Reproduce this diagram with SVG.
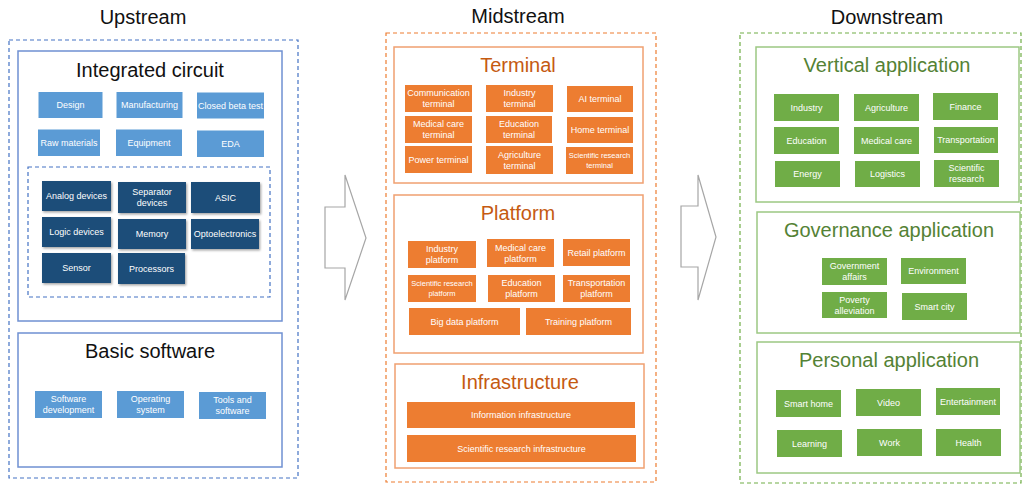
<svg xmlns="http://www.w3.org/2000/svg" width="1022" height="484" viewBox="0 0 1022 484">
  <style>
    text { font-family: "Liberation Sans", Arial, sans-serif; }
    .head { font-size: 20px; fill: #111; text-anchor: middle; }
    .ttl { font-size: 20px; text-anchor: middle; }
    .ttl-k { fill: #111; }
    .ttl-o { fill: #C55A11; }
    .ttl-g { fill: #548235; }
    .lbl { font-size: 9px; fill: #fff; text-anchor: middle; }
    .lbl-s { font-size: 7.5px; fill: #fff; text-anchor: middle; }
    .zone { fill: none; stroke-width: 1.2; stroke-dasharray: 4 3; }
    .zone-b { stroke: #4472C4; }
    .zone-o { stroke: #ED7D31; }
    .zone-g { stroke: #70AD47; }
    .grp { fill: #fff; stroke-width: 1.5; }
    .grp-b { stroke: #6F90D2; }
    .grp-o { stroke: #F0A070; }
    .grp-g { stroke: #9CC883; }
    .lb { fill: #5B9BD5; }
    .db { fill: #1F4E79; filter: url(#shadow); }
    .ob { fill: #ED7D31; }
    .gb { fill: #70AD47; }
    .arrow { fill: #fff; stroke: #A6A6A6; stroke-width: 1.2; }
  </style>
  <defs>
    <filter id="shadow" x="-10%" y="-10%" width="130%" height="140%">
      <feDropShadow dx="1.2" dy="1.5" stdDeviation="1" flood-color="#000" flood-opacity="0.35"/>
    </filter>
  </defs>

  <rect width="1022" height="484" fill="#fff"/>

  <!-- column headings -->
  <text class="head" x="143" y="24">Upstream</text>
  <text class="head" x="518" y="23">Midstream</text>
  <text class="head" x="887" y="24">Downstream</text>

  <!-- ===== Upstream ===== -->
  <g id="upstream">
    <rect class="zone zone-b" x="9" y="40" width="289" height="438"/>

    <g id="integrated-circuit">
      <rect class="grp grp-b" x="18" y="51" width="264" height="270"/>
      <text class="ttl ttl-k" x="150" y="77">Integrated circuit</text>
    </g>
    <g id="ic-design"><rect class="lb" x="38.5" y="92" width="64" height="26"/><text class="lbl" x="70.5" y="108">Design</text></g>
    <g id="ic-manufacturing"><rect class="lb" x="116.5" y="92" width="66" height="26"/><text class="lbl" x="149.5" y="108">Manufacturing</text></g>
    <g id="ic-closed-beta"><rect class="lb" x="197" y="92.5" width="67" height="26"/><text class="lbl" x="230.5" y="108.5">Closed beta test</text></g>
    <g id="ic-raw-materials"><rect class="lb" x="38" y="129.5" width="62" height="26.5"/><text class="lbl" x="69" y="145.5">Raw materials</text></g>
    <g id="ic-equipment"><rect class="lb" x="116" y="129.5" width="66" height="26.5"/><text class="lbl" x="149" y="145.5">Equipment</text></g>
    <g id="ic-eda"><rect class="lb" x="197" y="130.5" width="67" height="26.5"/><text class="lbl" x="230.5" y="147">EDA</text></g>

    <g id="ic-devices">
      <rect class="zone zone-b" x="28" y="167" width="242" height="130"/>
    </g>
    <g id="dev-analog"><rect class="db" x="42" y="181" width="69" height="30"/><text class="lbl" x="76.5" y="199">Analog devices</text></g>
    <g id="dev-separator"><rect class="db" x="118" y="182" width="68" height="31"/><text class="lbl" x="152" y="194.5">Separator</text><text class="lbl" x="152" y="205.5">devices</text></g>
    <g id="dev-asic"><rect class="db" x="191" y="182" width="69" height="31"/><text class="lbl" x="225.5" y="200.5">ASIC</text></g>
    <g id="dev-logic"><rect class="db" x="42" y="217" width="69" height="30"/><text class="lbl" x="76.5" y="235">Logic devices</text></g>
    <g id="dev-memory"><rect class="db" x="118" y="219" width="68" height="30"/><text class="lbl" x="152" y="237">Memory</text></g>
    <g id="dev-opto"><rect class="db" x="191" y="219" width="68" height="30"/><text class="lbl" x="225" y="237">Optoelectronics</text></g>
    <g id="dev-sensor"><rect class="db" x="42" y="253" width="69" height="30"/><text class="lbl" x="76.5" y="271">Sensor</text></g>
    <g id="dev-processors"><rect class="db" x="118" y="253" width="67" height="31"/><text class="lbl" x="151.5" y="271.5">Processors</text></g>

    <g id="basic-software">
      <rect class="grp grp-b" x="18" y="333" width="264" height="134"/>
      <text class="ttl ttl-k" x="150" y="358">Basic software</text>
    </g>
    <g id="sw-development"><rect class="lb" x="35" y="391" width="67" height="27"/><text class="lbl" x="68.5" y="402">Software</text><text class="lbl" x="68.5" y="413">development</text></g>
    <g id="sw-os"><rect class="lb" x="117" y="391" width="67" height="27"/><text class="lbl" x="150.5" y="402">Operating</text><text class="lbl" x="150.5" y="413">system</text></g>
    <g id="sw-tools"><rect class="lb" x="199" y="392" width="67" height="27"/><text class="lbl" x="232.5" y="403">Tools and</text><text class="lbl" x="232.5" y="414">software</text></g>
  </g>

  <!-- ===== Midstream ===== -->
  <g id="midstream">
    <rect class="zone zone-o" x="386" y="33" width="270" height="449"/>

    <g id="terminal">
      <rect class="grp grp-o" x="394" y="47" width="249" height="136"/>
      <text class="ttl ttl-o" x="518" y="72">Terminal</text>
    </g>
    <g id="t-communication"><rect class="ob" x="405" y="85" width="67" height="27"/><text class="lbl" x="438.5" y="96">Communication</text><text class="lbl" x="438.5" y="107">terminal</text></g>
    <g id="t-industry"><rect class="ob" x="486" y="85" width="67" height="27"/><text class="lbl" x="519.5" y="96">Industry</text><text class="lbl" x="519.5" y="107">terminal</text></g>
    <g id="t-ai"><rect class="ob" x="567" y="86" width="66" height="26"/><text class="lbl" x="600" y="102">AI terminal</text></g>
    <g id="t-medical"><rect class="ob" x="405" y="116" width="67" height="27"/><text class="lbl" x="438.5" y="127">Medical care</text><text class="lbl" x="438.5" y="138">terminal</text></g>
    <g id="t-education"><rect class="ob" x="486" y="116" width="66" height="27"/><text class="lbl" x="519" y="127">Education</text><text class="lbl" x="519" y="138">terminal</text></g>
    <g id="t-home"><rect class="ob" x="567" y="117" width="66" height="26"/><text class="lbl" x="600" y="133">Home terminal</text></g>
    <g id="t-power"><rect class="ob" x="405" y="146" width="67" height="27"/><text class="lbl" x="438.5" y="162.5">Power terminal</text></g>
    <g id="t-agriculture"><rect class="ob" x="486" y="146" width="67" height="28"/><text class="lbl" x="519.5" y="157.5">Agriculture</text><text class="lbl" x="519.5" y="168.5">terminal</text></g>
    <g id="t-scientific"><rect class="ob" x="566" y="147" width="67" height="27"/><text class="lbl-s" x="599.5" y="158">Scientific research</text><text class="lbl-s" x="599.5" y="168">terminal</text></g>

    <g id="platform">
      <rect class="grp grp-o" x="394" y="195" width="249" height="158"/>
      <text class="ttl ttl-o" x="518" y="220">Platform</text>
    </g>
    <g id="p-industry"><rect class="ob" x="408" y="241" width="68" height="27"/><text class="lbl" x="442" y="252">Industry</text><text class="lbl" x="442" y="263">platform</text></g>
    <g id="p-medical"><rect class="ob" x="487" y="239" width="67" height="28"/><text class="lbl" x="520.5" y="250.5">Medical care</text><text class="lbl" x="520.5" y="261.5">platform</text></g>
    <g id="p-retail"><rect class="ob" x="563" y="239" width="67" height="27"/><text class="lbl" x="596.5" y="255.5">Retail platform</text></g>
    <g id="p-scientific"><rect class="ob" x="408" y="275" width="68" height="27"/><text class="lbl-s" x="442" y="286">Scientific research</text><text class="lbl-s" x="442" y="296">platform</text></g>
    <g id="p-education"><rect class="ob" x="488" y="275" width="67" height="27"/><text class="lbl" x="521.5" y="286">Education</text><text class="lbl" x="521.5" y="297">platform</text></g>
    <g id="p-transportation"><rect class="ob" x="563" y="275" width="67" height="27"/><text class="lbl" x="596.5" y="286">Transportation</text><text class="lbl" x="596.5" y="297">platform</text></g>
    <g id="p-bigdata"><rect class="ob" x="409" y="308" width="111" height="27"/><text class="lbl" x="464.5" y="324.5">Big data platform</text></g>
    <g id="p-training"><rect class="ob" x="526" y="308" width="105" height="27"/><text class="lbl" x="578.5" y="324.5">Training platform</text></g>

    <g id="infrastructure">
      <rect class="grp grp-o" x="395" y="364" width="249" height="104"/>
      <text class="ttl ttl-o" x="520" y="389">Infrastructure</text>
    </g>
    <g id="i-information"><rect class="ob" x="407" y="402" width="228" height="26"/><text class="lbl" x="521" y="418">Information infrastructure</text></g>
    <g id="i-scientific"><rect class="ob" x="407" y="435" width="229" height="27"/><text class="lbl" x="521.5" y="451.5">Scientific research infrastructure</text></g>
  </g>

  <!-- ===== Downstream ===== -->
  <g id="downstream">
    <rect class="zone zone-g" x="740" y="33" width="281" height="450"/>

    <g id="vertical-application">
      <rect class="grp grp-g" x="756" y="47" width="263" height="155"/>
      <text class="ttl ttl-g" x="887" y="72">Vertical application</text>
    </g>
    <g id="v-industry"><rect class="gb" x="774" y="94" width="65" height="27"/><text class="lbl" x="806.5" y="110.5">Industry</text></g>
    <g id="v-agriculture"><rect class="gb" x="854" y="94" width="65" height="27"/><text class="lbl" x="886.5" y="110.5">Agriculture</text></g>
    <g id="v-finance"><rect class="gb" x="933" y="93" width="65" height="27"/><text class="lbl" x="965.5" y="109.5">Finance</text></g>
    <g id="v-education"><rect class="gb" x="774" y="127" width="65" height="27"/><text class="lbl" x="806.5" y="143.5">Education</text></g>
    <g id="v-medical"><rect class="gb" x="854" y="127" width="65" height="27"/><text class="lbl" x="886.5" y="143.5">Medical care</text></g>
    <g id="v-transportation"><rect class="gb" x="934" y="127" width="64" height="26"/><text class="lbl" x="966" y="143">Transportation</text></g>
    <g id="v-energy"><rect class="gb" x="775" y="161" width="65" height="26"/><text class="lbl" x="807.5" y="177">Energy</text></g>
    <g id="v-logistics"><rect class="gb" x="855" y="161" width="65" height="26"/><text class="lbl" x="887.5" y="177">Logistics</text></g>
    <g id="v-scientific"><rect class="gb" x="934" y="160" width="65" height="27"/><text class="lbl" x="966.5" y="171">Scientific</text><text class="lbl" x="966.5" y="182">research</text></g>

    <g id="governance-application">
      <rect class="grp grp-g" x="757" y="212" width="263" height="121"/>
      <text class="ttl ttl-g" x="889" y="237">Governance application</text>
    </g>
    <g id="g-government"><rect class="gb" x="822" y="258" width="65" height="27"/><text class="lbl" x="854.5" y="269">Government</text><text class="lbl" x="854.5" y="280">affairs</text></g>
    <g id="g-environment"><rect class="gb" x="901" y="258" width="65" height="26"/><text class="lbl" x="933.5" y="274">Environment</text></g>
    <g id="g-poverty"><rect class="gb" x="822" y="292" width="65" height="26"/><text class="lbl" x="854.5" y="302.5">Poverty</text><text class="lbl" x="854.5" y="313.5">alleviation</text></g>
    <g id="g-smartcity"><rect class="gb" x="902" y="293" width="65" height="27"/><text class="lbl" x="934.5" y="309.5">Smart city</text></g>

    <g id="personal-application">
      <rect class="grp grp-g" x="757" y="342" width="263" height="131"/>
      <text class="ttl ttl-g" x="889" y="367">Personal application</text>
    </g>
    <g id="pa-smarthome"><rect class="gb" x="776" y="390" width="65" height="27"/><text class="lbl" x="808.5" y="406.5">Smart home</text></g>
    <g id="pa-video"><rect class="gb" x="856" y="389" width="65" height="27"/><text class="lbl" x="888.5" y="405.5">Video</text></g>
    <g id="pa-entertainment"><rect class="gb" x="936" y="388" width="64" height="27"/><text class="lbl" x="968" y="404.5">Entertainment</text></g>
    <g id="pa-learning"><rect class="gb" x="777" y="430" width="65" height="27"/><text class="lbl" x="809.5" y="446.5">Learning</text></g>
    <g id="pa-work"><rect class="gb" x="857" y="429" width="65" height="27"/><text class="lbl" x="889.5" y="445.5">Work</text></g>
    <g id="pa-health"><rect class="gb" x="936" y="429" width="65" height="27"/><text class="lbl" x="968.5" y="445.5">Health</text></g>
  </g>

  <!-- flow arrows between the stages -->
  <g id="connectors">
    <polygon class="arrow" points="325,207 345,207 345,175 366,238 345,300 345,268 325,268"/>
    <polygon class="arrow" points="681,206 698,206 698,175 716,237 698,300 698,267 681,267"/>
  </g>
</svg>
